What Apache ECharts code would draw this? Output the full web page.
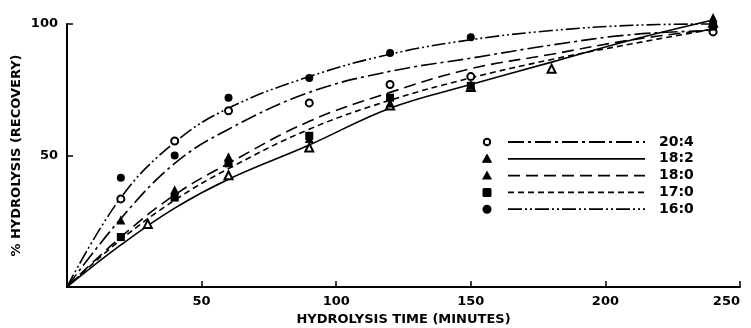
<!DOCTYPE html>
<html>
<head>
<meta charset="utf-8">
<script src="https://cdn.jsdelivr.net/npm/echarts@6/dist/echarts.min.js"></script>
<style>
  html, body { margin: 0; padding: 0; background: #fff; }
  #main { width: 751px; height: 328px; }
</style>
</head>
<body>
<div id="main"></div>
<script type="text/javascript">
    // fitted curves
    var curveTimes = [0, 20, 40, 60, 90, 120, 150, 180, 210, 240];
    var curve204 = [0, 26, 47, 60, 74, 82, 87, 92, 96, 97.5];
    var curve182 = [0, 16, 30, 41, 54, 68, 77, 85.5, 94, 101.5];
    var curve180 = [0, 19, 35, 47, 63, 74, 83, 88.5, 94, 98];
    var curve170 = [0, 18, 33, 45, 60, 71, 79.5, 86.5, 92.5, 98];
    var curve160 = [0, 34, 55, 68, 80, 88.5, 94, 97.5, 99.5, 100];

    // measured points [minutes, %]
    var pts204 = [[20, 33.5], [40, 55.5], [60, 67], [90, 70], [120, 77], [150, 80], [240, 97]];
    var pts182 = [[30, 24], [60, 42.5], [90, 53], [120, 69], [150, 76], [180, 83], [240, 100.5]];
    var pts180 = [[20, 25.5], [40, 37], [60, 49.5], [90, 56.5], [120, 70], [150, 77], [240, 102.5]];
    var pts170 = [[20, 19], [40, 34], [60, 47], [90, 57.5], [120, 72], [150, 76.5], [240, 99]];
    var pts160 = [[20, 41.5], [40, 50], [60, 72], [90, 79.5], [120, 89], [150, 95], [240, 100]];

    var xTicks = [50, 100, 150, 200, 250];
    var yTicks = [50, 100];

    var names = ['20:4', '18:2', '18:0', '17:0', '16:0'];
    var curves = [curve204, curve182, curve180, curve170, curve160];
    var points = [pts204, pts182, pts180, pts170, pts160];
    var symbols = ['emptyCircle', 'emptyTriangle', 'triangle', 'rect', 'circle'];
    var symbolSizes = [7, 8, 9, 8, 8];
    var dashes = [[16, 4, 3, 4], 'solid', [12, 6], [6, 4], [14, 3, 2, 3, 2, 3]];

    var fontFam = '"DejaVu Sans", "Liberation Sans", sans-serif';

    var myChart = echarts.init(document.getElementById('main'));

    var series = [];
    for (var i = 0; i < names.length; i++) {
        var lineData = [];
        for (var j = 0; j < curveTimes.length; j++) {
            lineData.push([curveTimes[j], curves[i][j]]);
        }
        series.push({
            name: names[i] + ' fit',
            type: 'line',
            data: lineData,
            smooth: 0.4,
            showSymbol: false,
            clip: false,
            silent: true,
            z: 2,
            lineStyle: { color: '#000', width: 1.6, type: dashes[i] }
        });
    }
    for (var s = 0; s < names.length; s++) {
        var empty = symbols[s].indexOf('empty') === 0;
        series.push({
            name: names[s],
            type: 'scatter',
            data: points[s],
            symbol: symbols[s],
            symbolSize: symbolSizes[s],
            clip: false,
            z: 3,
            itemStyle: { color: '#000', opacity: 1, borderColor: '#000', borderWidth: empty ? 2 : 0 }
        });
    }

    // legend drawn by hand: marker, line sample, label
    var legendGraphics = [];
    var legendTop = 142;
    var legendStep = 16.8;
    var legendSymbolPaths = {
        emptyCircle: { type: 'circle', shape: { r: 3.2 }, style: { fill: '#fff', stroke: '#000', lineWidth: 2 } },
        emptyTriangle: { type: 'polygon', shape: { points: [[0, -4.5], [4.5, 3.5], [-4.5, 3.5]] }, style: { fill: '#000', stroke: '#000', lineWidth: 1 } },
        triangle: { type: 'polygon', shape: { points: [[0, -5], [5, 4], [-5, 4]] }, style: { fill: '#000' } },
        rect: { type: 'rect', shape: { x: -4.5, y: -4.5, width: 9, height: 9, r: 1.5 }, style: { fill: '#000' } },
        circle: { type: 'circle', shape: { r: 4.5 }, style: { fill: '#000' } }
    };
    for (var k = 0; k < names.length; k++) {
        var yy = legendTop + k * legendStep;
        var m = echarts.util.clone(legendSymbolPaths[symbols[k]]);
        m.x = 487;
        m.y = yy;
        legendGraphics.push(m);
        legendGraphics.push({
            type: 'line',
            shape: { x1: 508, y1: yy, x2: 645, y2: yy },
            style: { stroke: '#000', lineWidth: 1.8, lineDash: dashes[k] === 'solid' ? null : dashes[k] }
        });
        legendGraphics.push({
            type: 'text',
            x: 659,
            y: yy,
            style: { text: names[k], fill: '#000', font: 'bold 14px ' + fontFam, verticalAlign: 'middle' }
        });
    }

    var option = {
        backgroundColor: '#fff',
        animation: false,
        grid: { left: 67, right: 11, top: 24, bottom: 41, outerBoundsMode: 'none', containLabel: false },
        xAxis: {
            type: 'value',
            min: 0,
            max: 250,
            interval: 50,
            name: 'HYDROLYSIS TIME (MINUTES)',
            nameLocation: 'middle',
            nameGap: 25,
            nameTextStyle: { color: '#000', fontWeight: 'bold', fontSize: 13, fontFamily: fontFam },
            axisLine: { lineStyle: { color: '#000', width: 2 } },
            axisTick: { inside: true, length: 6, lineStyle: { color: '#000', width: 1.5 } },
            axisLabel: {
                color: '#000', fontWeight: 'bold', fontSize: 13, fontFamily: fontFam, margin: 8,
                alignMaxLabel: 'right',
                formatter: function (v) { return xTicks.indexOf(v) >= 0 ? String(v) : ''; }
            },
            splitLine: { show: false }
        },
        yAxis: {
            type: 'value',
            min: 0,
            max: 100,
            interval: 50,
            name: '% HYDROLYSIS (RECOVERY)',
            nameLocation: 'middle',
            nameGap: 44,
            nameMoveOverlap: false,
            nameTextStyle: { color: '#000', fontWeight: 'bold', fontSize: 13, fontFamily: fontFam },
            axisLine: { show: true, lineStyle: { color: '#000', width: 2 } },
            axisTick: { show: true, inside: true, length: 6, lineStyle: { color: '#000', width: 1.5 } },
            axisLabel: {
                color: '#000', fontWeight: 'bold', fontSize: 13, fontFamily: fontFam, margin: 9,
                formatter: function (v) { return yTicks.indexOf(v) >= 0 ? String(v) : ''; }
            },
            splitLine: { show: false }
        },
        graphic: legendGraphics,
        series: series
    };

    myChart.setOption(option);
</script>
</body>
</html>
